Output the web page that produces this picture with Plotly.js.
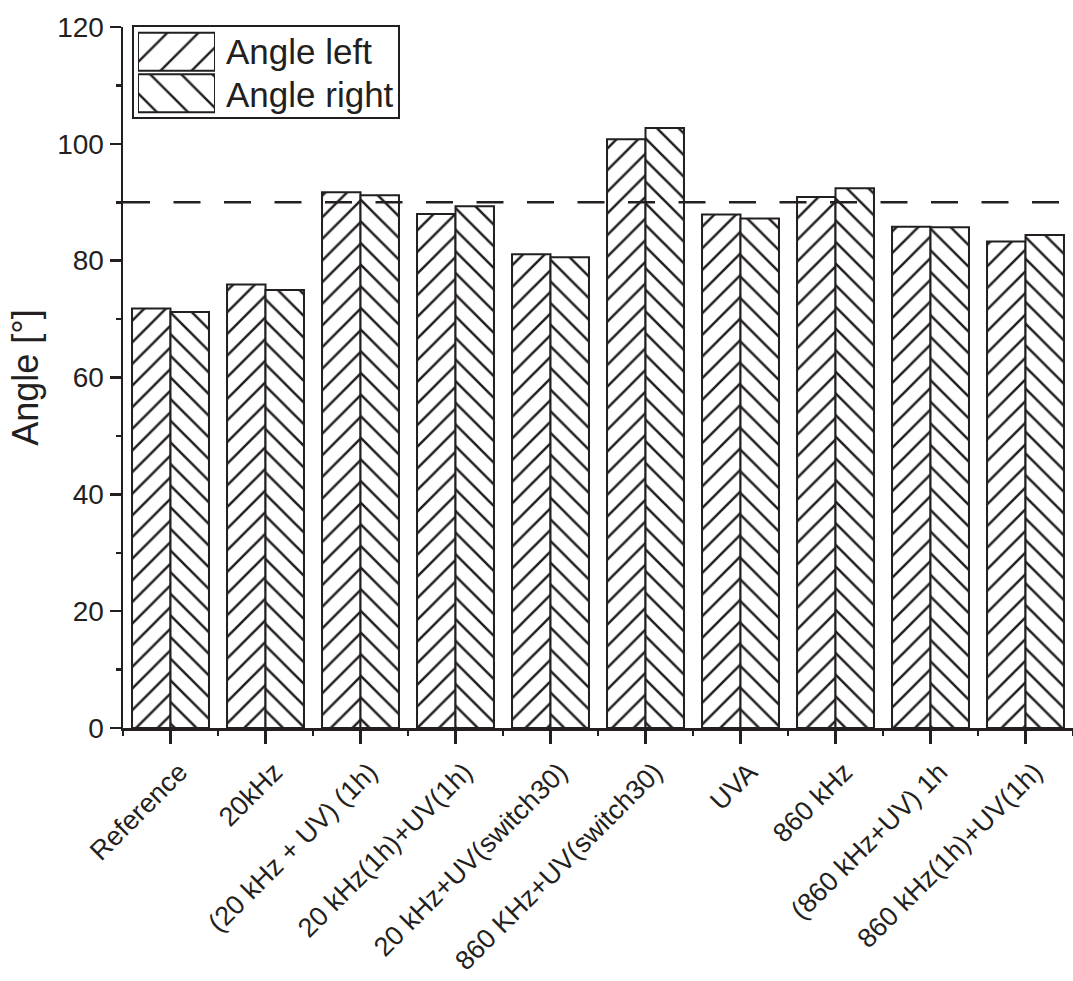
<!DOCTYPE html>
<html>
<head>
<meta charset="utf-8">
<script src="https://cdn.plot.ly/plotly-3.0.1.min.js"></script>
<style>
html,body{margin:0;padding:0;background:#fff;}
#chart{width:1073px;height:981px;}
</style>
</head>
<body>
<div id="chart"></div>
<script>
// ---- data ----
const categories = [
  "Reference",
  "20kHz",
  "(20 kHz + UV) (1h)",
  "20 kHz(1h)+UV(1h)",
  "20 kHz+UV(switch30)",
  "860 KHz+UV(switch30)",
  "UVA",
  "860 kHz",
  "(860 kHz+UV) 1h",
  "860 kHz(1h)+UV(1h)"
];
const angleLeft  = [71.8, 75.9, 91.7, 88.0, 81.1, 100.8, 87.9, 90.9, 85.8, 83.3];
const angleRight = [71.2, 75.0, 91.2, 89.3, 80.6, 102.7, 87.2, 92.4, 85.7, 84.4];
const seriesNames = ["Angle left", "Angle right"];
const referenceAngle = 90;
const yTickValues = [0, 20, 40, 60, 80, 100, 120];

const FONT = "Liberation Sans, Arial, Helvetica, sans-serif";
const INK = "#231f20";
const xIdx = categories.map((c, i) => i);

const PAT_SIZE = 15.3, PAT_SOLID = 0.165;
const barStyle = (shape) => ({
  color: "white",
  line: {color: INK, width: 2},
  pattern: {shape: shape, fgcolor: INK, bgcolor: "white", size: PAT_SIZE, solidity: PAT_SOLID, fillmode: "replace"}
});

const traces = [
  {type: "bar", name: seriesNames[0], x: xIdx, y: angleLeft, marker: barStyle("/"), showlegend: false},
  {type: "bar", name: seriesNames[1], x: xIdx, y: angleRight, marker: barStyle("\\"), showlegend: false},
  // legend swatches (drawn in a tiny helper subplot)
  {type: "bar", orientation: "h", y: seriesNames, x: seriesNames.map(() => 1), width: 0.92,
   xaxis: "x2", yaxis: "y2", showlegend: false, hoverinfo: "skip",
   marker: {color: "white", line: {color: INK, width: 2},
            pattern: {shape: ["/", "\\"], fgcolor: INK, bgcolor: "white", size: 22, solidity: 0.11}}}
];

const W = 950, H = 701, L = 123, T = 27;
const px = (x) => (x - L) / W;
const py = (y) => (T + H - y) / H;

const layout = {
  width: 1073, height: 981,
  margin: {l: L, r: 0, t: T, b: 981 - T - H, pad: 0},
  paper_bgcolor: "white", plot_bgcolor: "white",
  font: {family: FONT, color: INK, size: 28},
  barmode: "group", bargap: 0.19, bargroupgap: 0,
  showlegend: false,
  xaxis: {
    type: "linear", range: [-0.5, 9.5],
    tickmode: "array", tickvals: xIdx, ticktext: categories, tickangle: -45,
    ticks: "outside", ticklen: 13, tickwidth: 2.5, tickcolor: INK,
    ticklabelshift: 9, ticklabelstandoff: 2,
    minor: {tickmode: "linear", tick0: -0.5, dtick: 1, ticks: "outside", ticklen: 5, tickwidth: 2.5, tickcolor: INK},
    showline: true, linewidth: 2.5, linecolor: INK,
    showgrid: false, zeroline: false,
    tickfont: {size: 27, family: FONT, color: INK}
  },
  yaxis: {
    range: [0, 120], tickmode: "array", tickvals: yTickValues,
    ticks: "outside", ticklen: 11, tickwidth: 2.5, tickcolor: INK,
    minor: {dtick: 10, tick0: 0, ticks: "outside", ticklen: 5, tickwidth: 2.5, tickcolor: INK},
    showline: true, linewidth: 2.5, linecolor: INK,
    showgrid: false, zeroline: false,
    tickfont: {size: 28, family: FONT, color: INK},
    title: {text: "Angle [°]", font: {size: 36, family: FONT, color: INK}, standoff: 8}
  },
  xaxis2: {domain: [px(138), px(215)], range: [0, 1], visible: false, fixedrange: true, anchor: "y2"},
  yaxis2: {domain: [py(114), py(31)], type: "category", autorange: "reversed", visible: false, fixedrange: true, anchor: "x2"},
  shapes: [
    {type: "line", xref: "paper", x0: 0, x1: 1, yref: "y", y0: referenceAngle, y1: referenceAngle,
     line: {color: INK, width: 2.5, dash: "27px,23.5px"}, layer: "above"},
    {type: "rect", xref: "paper", yref: "paper", x0: px(133), x1: px(399), y0: py(118), y1: py(26),
     line: {color: INK, width: 2}, fillcolor: "rgba(0,0,0,0)", layer: "above"}
  ],
  annotations: seriesNames.map((n, i) => ({
    text: n, xref: "paper", yref: "paper", x: px(224), y: py(i === 0 ? 51 : 94),
    xanchor: "left", yanchor: "middle", showarrow: false,
    font: {size: 35, family: FONT, color: INK}
  }))
};

Plotly.newPlot("chart", traces, layout, {staticPlot: true, displayModeBar: false});
</script>
</body>
</html>
